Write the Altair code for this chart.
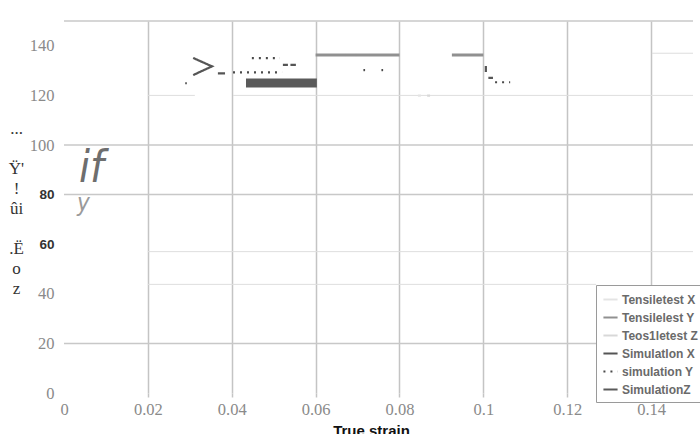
import altair as alt
import pandas as pd

# ---------------- data ----------------
series_names = ["Tensiletest X", "Tensilelest Y", "Teos1letest Z",
                "Simulatlon X", "simulation Y", "SimulationZ"]
series_colors = ["#e4e4e4", "#909090", "#d8d8d8", "#555555", "#4a4a4a", "#5a5a5a"]
series_dash = [[1, 0], [1, 0], [1, 0], [1, 0], [2, 5], [1, 0]]

# points of the visible line fragments (series, fragment id, strain, stress)
pt_series = ["SimulationZ", "SimulationZ",
             "Tensilelest Y", "Tensilelest Y",
             "Tensilelest Y", "Tensilelest Y",
             "Simulatlon X", "Simulatlon X",
             "Simulatlon X", "Simulatlon X", "Simulatlon X",
             "Simulatlon X", "Simulatlon X",
             "Simulatlon X", "Simulatlon X",
             "Simulatlon X", "Simulatlon X",
             "Simulatlon X", "Simulatlon X",
             "Simulatlon X", "Simulatlon X",
             "simulation Y", "simulation Y",
             "simulation Y", "simulation Y",
             "simulation Y", "simulation Y",
             "simulation Y", "simulation Y",
             "simulation Y", "simulation Y",
             "Tensiletest X", "Tensiletest X",
             "Teos1letest Z", "Teos1letest Z"]
pt_segment = ["z1", "z1",
              "y1", "y1",
              "y2", "y2",
              "x1", "x1",
              "x2", "x2", "x2",
              "x3", "x3",
              "x4", "x4",
              "x5", "x5",
              "x6", "x6",
              "x7", "x7",
              "s1", "s1",
              "s2", "s2",
              "s3", "s3",
              "s4", "s4",
              "s5", "s5",
              "t1", "t1",
              "t2", "t2"]
pt_strain = [0.0434, 0.0603,
             0.0600, 0.0800,
             0.0925, 0.1000,
             0.0289, 0.0293,
             0.0308, 0.0353, 0.0308,
             0.0367, 0.0384,
             0.0522, 0.0534,
             0.0540, 0.0553,
             0.1006, 0.1006,
             0.1012, 0.1023,
             0.0403, 0.0520,
             0.0448, 0.0515,
             0.1028, 0.1064,
             0.0714, 0.0718,
             0.0757, 0.0761,
             0.0844, 0.0851,
             0.0866, 0.0873]
pt_stress = [125.0, 125.0,
             136.3, 136.3,
             136.3, 136.3,
             124.9, 124.9,
             135.1, 131.7, 128.2,
             128.9, 128.9,
             132.3, 132.3,
             132.3, 132.3,
             131.9, 129.4,
             127.1, 127.1,
             129.3, 129.3,
             135.0, 135.0,
             125.3, 125.3,
             130.2, 130.2,
             130.2, 130.2,
             119.9, 119.9,
             119.9, 119.9]

# horizontal grid lines (stress level, strain start, strain end)
major_grid_y = [150, 100, 80, 20]
major_grid_x0 = [0, 0, 0, 0]
major_grid_x1 = [0.15, 0.15, 0.15, 0.15]
minor_grid_y = [120, 120, 57.0, 43.8, 137.0]
minor_grid_x0 = [0.02, 0.0403, 0.02, 0.02, 0.1402]
minor_grid_x1 = [0.0312, 0.15, 0.15, 0.1269, 0.15]

x_ticks = [0, 0.02, 0.04, 0.06, 0.08, 0.1, 0.12, 0.14]
y_ticks = [0, 20, 40, 60, 80, 100, 120, 140]

y_title_lines = ["...", "\u200b", "Ÿ'", "!", "ûi", "\u200b", ".Ë", "o", "z"]

annot_big_text = ["if"]
annot_big_x = [0.00656]
annot_big_y = [84.9]
annot_small_text = ["y"]
annot_small_x = [0.00465]
annot_small_y = [73.4]

# ---------------- tables ----------------
lines_df = pd.DataFrame({
    "series": pt_series, "seg": pt_segment,
    "strain": pt_strain, "stress": pt_stress,
    "idx": list(range(len(pt_strain))),
})
major_df = pd.DataFrame({"y": major_grid_y, "x0": major_grid_x0, "x1": major_grid_x1})
minor_df = pd.DataFrame({"y": minor_grid_y, "x0": minor_grid_x0, "x1": minor_grid_x1})
big_df = pd.DataFrame({"t": annot_big_text, "x": annot_big_x, "y": annot_big_y})
small_df = pd.DataFrame({"t": annot_small_text, "x": annot_small_x, "y": annot_small_y})

xscale = alt.Scale(domain=[0, 0.15], nice=False, zero=False)
yscale = alt.Scale(domain=[0, 150], nice=False)

is_bold = "datum.value == 60 || datum.value == 80"

x_axis = alt.Axis(
    values=x_ticks, format="~g", grid=True,
    gridColor={"condition": {"test": "datum.value == 0", "value": "transparent"}, "value": "#c4c4c4"},
    gridWidth=1.5,
    ticks=True, tickSize=4, tickWidth=1.5,
    tickColor={"condition": {"test": "datum.value == 0", "value": "transparent"}, "value": "#c4c4c4"},
    domain=False, labelFlush=False, labelOverlap=False,
    labelFont="Liberation Serif", labelFontSize=16.5, labelColor="#8a8a8a", labelPadding=4,
    title="True strain", titleFont="Liberation Sans", titleFontSize=15,
    titleFontWeight="bold", titleColor="#111111", titlePadding=6, titleX=307,
)
y_axis = alt.Axis(
    values=y_ticks, grid=False, ticks=False, domain=False, labelFlush=False,
    labelFont={"condition": {"test": is_bold, "value": "Liberation Sans"}, "value": "Liberation Serif"},
    labelFontSize={"condition": {"test": is_bold, "value": 13.5}, "value": 16.5},
    labelFontWeight={"condition": {"test": is_bold, "value": "bold"}, "value": "normal"},
    labelColor={"condition": {"test": is_bold, "value": "#333333"}, "value": "#8a8a8a"},
    labelPadding=10,
    title=y_title_lines, titleAngle=0, titleX=-48, titleY=99,
    titleAlign="center", titleBaseline="top", titleLineHeight=20,
    titleFont="Liberation Serif", titleFontSize=17, titleColor="#333333",
    titleFontWeight="normal",
)

legend = alt.Legend(
    orient="none", legendX=532, legendY=264, title=None,
    fillColor="white", strokeColor="#9a9a9a", padding=6,
    symbolType="stroke", symbolSize=200, symbolStrokeWidth=2,
    labelFont="Liberation Sans", labelFontSize=12, labelFontWeight="bold",
    labelColor="#6a6a6a", rowPadding=3, labelOffset=3, labelLimit=200,
)

color_enc = alt.Color("series:N", legend=legend,
                      scale=alt.Scale(domain=series_names, range=series_colors))
dash_enc = alt.StrokeDash("series:N", legend=legend,
                          scale=alt.Scale(domain=series_names, range=series_dash))

major = alt.Chart(major_df).mark_rule(color="#c8c8c8", strokeWidth=1.5).encode(
    x=alt.X("x0:Q", scale=xscale, axis=x_axis), x2="x1:Q",
    y=alt.Y("y:Q", scale=yscale, axis=y_axis),
)
minor = alt.Chart(minor_df).mark_rule(color="#dedede", strokeWidth=1).encode(
    x=alt.X("x0:Q", scale=xscale), x2="x1:Q", y=alt.Y("y:Q", scale=yscale),
)

base_lines = alt.Chart(lines_df).encode(
    x=alt.X("strain:Q", scale=xscale),
    y=alt.Y("stress:Q", scale=yscale),
    detail="seg:N",
    order=alt.Order("idx:Q"),
    color=color_enc,
    strokeDash=dash_enc,
)
thin_lines = base_lines.mark_line(strokeWidth=2.2).transform_filter(
    alt.FieldOneOfPredicate(field="series",
                            oneOf=["Tensiletest X", "Teos1letest Z", "Simulatlon X", "simulation Y"]))
mid_lines = base_lines.mark_line(strokeWidth=3).transform_filter(
    alt.FieldEqualPredicate(field="series", equal="Tensilelest Y"))
thick_lines = base_lines.mark_line(strokeWidth=9).transform_filter(
    alt.FieldEqualPredicate(field="series", equal="SimulationZ"))

big_text = alt.Chart(big_df).mark_text(
    font="Liberation Sans Narrow, DejaVu Sans Condensed, sans-serif",
    fontStyle="italic", fontSize=44, color="#6e6e6e", baseline="alphabetic", align="center",
).encode(x=alt.X("x:Q", scale=xscale), y=alt.Y("y:Q", scale=yscale), text="t:N")

small_text = alt.Chart(small_df).mark_text(
    font="Liberation Sans Narrow, DejaVu Sans Condensed, sans-serif",
    fontStyle="italic", fontSize=24, color="#9a9a9a", baseline="alphabetic", align="center",
).encode(x=alt.X("x:Q", scale=xscale), y=alt.Y("y:Q", scale=yscale), text="t:N")

chart = alt.layer(major, minor, thin_lines, mid_lines, thick_lines, big_text, small_text).properties(
    width=629, height=372,
    autosize=alt.AutoSizeParams(type="none"),
    padding={"left": 64, "top": 21, "right": 7, "bottom": 41},
    background="white",
).configure_view(stroke=None)

chart.save("out.html", embed_options={"renderer": "svg", "actions": False})
